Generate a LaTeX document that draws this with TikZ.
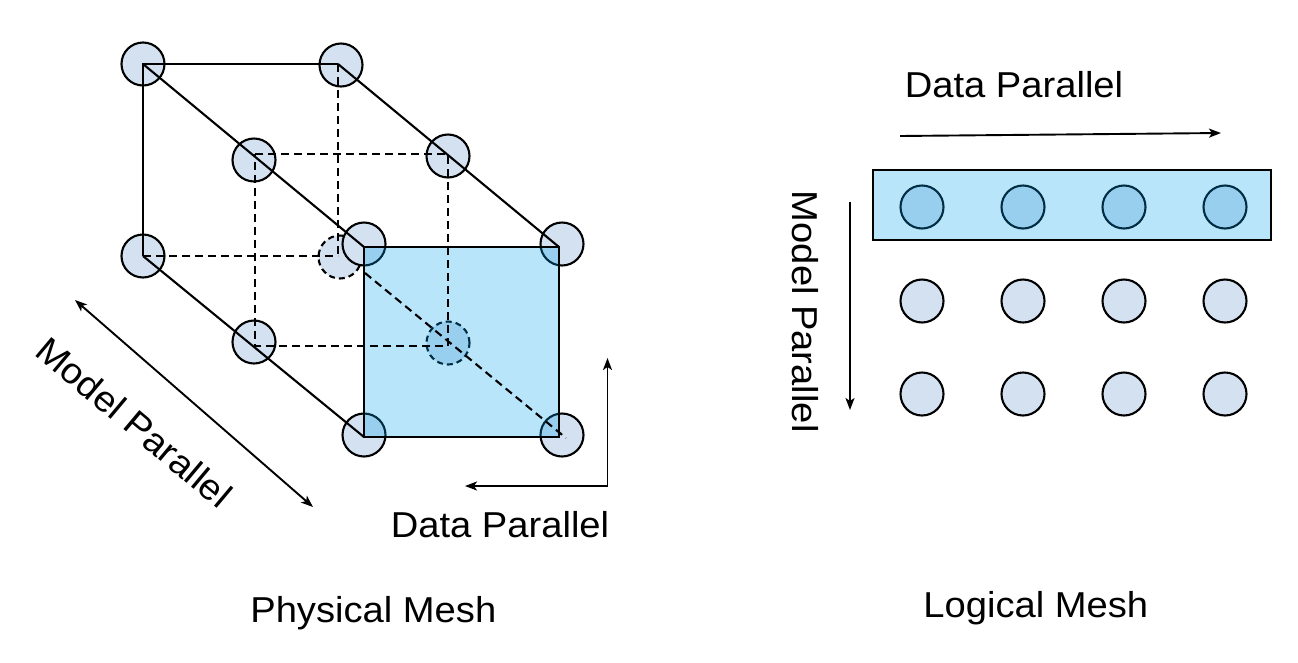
\documentclass[tikz,border=0pt]{standalone}
\usepackage{fontspec}
\setmainfont{Liberation Sans}
\usetikzlibrary{arrows.meta}
\definecolor{circfill}{RGB}{211,225,241}
\definecolor{selfill}{RGB}{0,163,237}
\begin{document}
\begin{tikzpicture}[x=1pt,y=-1pt,
  dev/.style={circle,draw=black,line width=2.1pt,fill=circfill,minimum size=43pt,inner sep=0pt},
  devh/.style={dev,dash pattern=on 6pt off 4pt},
  solidln/.style={line width=2.1pt},
  hiddenln/.style={line width=2.1pt,dash pattern=on 8pt off 5pt},
  sel/.style={draw=black,line width=2.6pt,fill=selfill,fill opacity=0.28},
  tipa/.tip={Stealth[length=12pt,width=9pt,inset=3pt]},
  arr/.style={line width=1.9pt,-tipa},
  arrb/.style={line width=1.9pt,tipa-tipa},
  lbl/.style={font=\fontsize{36}{42}\selectfont,inner sep=0pt,anchor=base}]
\useasboundingbox (0,0) rectangle (1298,662);

% ---------- physical mesh: devices ----------
\node[devh] (bBR) at (340,257) {};
\node[devh] (mBR) at (448,343) {};
\node[dev] (bTL) at (143,64) {};
\node[dev] (bTR) at (341,65) {};
\node[dev] (bBL) at (143,256) {};
\node[dev] (mTL) at (254,160) {};
\node[dev] (mTR) at (448,156) {};
\node[dev] (mBL) at (254,342) {};
\node[dev] (fTL) at (364,244) {};
\node[dev] (fTR) at (562,244) {};
\node[dev] (fBL) at (364,435) {};
\node[dev] (fBR) at (562,435) {};

% vertices
\coordinate (vbTL) at (143,64);
\coordinate (vbTR) at (338,64);
\coordinate (vbBL) at (143,256);
\coordinate (vbBR) at (338,256);
\coordinate (vmTL) at (255,154);
\coordinate (vmTR) at (448,154);
\coordinate (vmBL) at (255,346);
\coordinate (vmBR) at (448,346);
\coordinate (vfTL) at (364,247);
\coordinate (vfTR) at (559,247);
\coordinate (vfBL) at (364,437);
\coordinate (vfBR) at (559,437);
\coordinate (dstart) at (365,273);
\coordinate (dend) at (566,438);

% selected face
\draw[sel] (vfTL) rectangle (vfBR);

% edges
\draw[solidln] (vbBL) -- (vbTL) -- (vbTR);
\draw[solidln] (vbTL) -- (vfTL);
\draw[solidln] (vbTR) -- (vfTR);
\draw[solidln] (vbBL) -- (vfBL);
\draw[hiddenln] (vbTR) -- (vbBR);
\draw[hiddenln] (vbBL) -- (vbBR);
\draw[hiddenln] (vmTL) -- (vmTR) -- (vmBR) -- (vmBL) -- cycle;
\draw[hiddenln] (dstart) -- (dend);

% arrows of the physical mesh
\coordinate (mpA) at (75,300);
\coordinate (mpB) at (313,507);
\draw[arrb] (mpA) -- (mpB);
\coordinate (dpA) at (465,486);
\coordinate (dpC) at (607.5,486);
\coordinate (dpB) at (607.5,358);
\draw[arrb] (dpA) -- (dpC) -- (dpB);

\node[lbl,rotate=-40] (lmp) at (126,432) {\scalebox{1.06}[1]{Model Parallel}};
\node[lbl] (ldp) at (500,537.3) {\scalebox{1.06}[1]{Data Parallel}};
\node[lbl] (lphys) at (373.3,622.3) {\scalebox{1.06}[1]{Physical Mesh}};

% ---------- logical mesh ----------
\foreach \c/\x in {1/922,2/1023,3/1124,4/1225}{
  \node[dev] (r1c\c) at (\x,207) {};
  \node[dev] (r2c\c) at (\x,301) {};
  \node[dev] (r3c\c) at (\x,394) {};
}
\coordinate (rowA) at (873,170);
\coordinate (rowB) at (1271,240);
\draw[sel] (rowA) rectangle (rowB);

\coordinate (rdA) at (900,136);
\coordinate (rdB) at (1221,133);
\draw[arr] (rdA) -- (rdB);
\coordinate (rmA) at (850,202);
\coordinate (rmB) at (850,410);
\draw[arr] (rmA) -- (rmB);

\node[lbl] (rdp) at (1014,97.3) {\scalebox{1.06}[1]{Data Parallel}};
\node[lbl,rotate=-90] (rmp) at (792.7,311.7) {\scalebox{1.06}[1]{Model Parallel}};
\node[lbl] (rlog) at (1035.8,617.3) {\scalebox{1.06}[1]{Logical Mesh}};
\end{tikzpicture}
\end{document}
